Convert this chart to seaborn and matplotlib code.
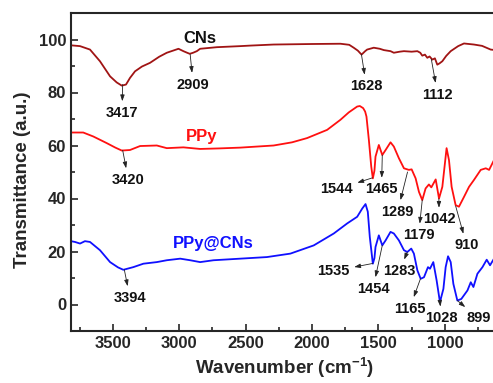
"""
FTIR spectra of CNs, PPy and PPy@CNs (transmittance vs wavenumber).
"""

import matplotlib
matplotlib.use("Agg")
import matplotlib.pyplot as plt
import pandas as pd
import seaborn as sns
from matplotlib.ticker import MultipleLocator

# Spectra (wavenumber in cm-1, transmittance in a.u.)
cns_wn = [3814, 3746, 3671, 3596, 3520, 3470, 3432, 3400, 3370, 3332, 3280, 3219,
          3150, 3093, 3005, 2968, 2940, 2920, 2895, 2867, 2842, 2716, 2540, 2465,
          2289, 2000, 1786, 1720, 1686, 1655, 1627, 1600, 1585, 1535, 1490, 1459,
          1409, 1384, 1340, 1308, 1250, 1207, 1185, 1170, 1150, 1132, 1115, 1094,
          1075, 1057, 1040, 1019, 990, 956, 900, 856, 781, 720, 655, 620]
cns_t = [97.8, 97.5, 96.2, 91.8, 86.1, 83.8, 82.6, 83.0, 85.5, 88.0, 89.8, 91.2,
         93.5, 95.0, 96.5, 95.6, 95.0, 94.6, 95.0, 95.6, 96.5, 97.1, 97.5, 97.7,
         98.1, 98.3, 98.4, 98.0, 96.9, 95.8, 94.3, 95.6, 96.2, 96.9, 96.5, 96.0,
         95.6, 95.0, 95.4, 95.6, 95.4, 95.6, 95.0, 93.9, 94.3, 93.1, 93.6, 92.4,
         92.9, 90.5, 91.0, 91.8, 93.8, 95.6, 97.5, 98.5, 98.1, 97.6, 96.2, 96.0]

ppy_wn = [3814, 3722, 3646, 3545, 3480, 3432, 3370, 3294, 3168, 3093, 2968, 2842,
          2700, 2540, 2289, 2150, 2037, 1886, 1786, 1723, 1660, 1640, 1615, 1600,
          1590, 1572, 1554, 1542, 1530, 1522, 1497, 1471, 1446, 1409, 1384, 1346,
          1308, 1271, 1250, 1220, 1195, 1170, 1145, 1120, 1102, 1069, 1044, 1019,
          987, 969, 949, 919, 894, 856, 818, 781, 730, 692, 667, 630]
ppy_t = [64.9, 64.9, 63.4, 60.9, 59.2, 58.1, 58.3, 59.8, 60.0, 59.0, 59.3, 58.7,
         58.9, 59.2, 60.0, 61.2, 62.8, 65.9, 69.7, 72.5, 74.7, 74.9, 74.1, 72.8,
         70.9, 62.1, 52.0, 47.6, 50.5, 55.8, 60.2, 56.4, 58.3, 61.2, 59.6, 55.2,
         51.4, 50.8, 51.0, 47.6, 42.5, 39.4, 43.8, 45.3, 44.2, 47.2, 40.0, 44.4,
         59.0, 54.5, 44.4, 37.5, 36.9, 40.6, 44.4, 47.0, 50.8, 51.4, 50.8, 54.5]

comp_wn = [3814, 3784, 3746, 3709, 3671, 3596, 3520, 3460, 3420, 3345, 3269, 3168,
           3093, 2992, 2917, 2842, 2741, 2540, 2339, 2163, 1987, 1836, 1735, 1660,
           1622, 1597, 1580, 1565, 1542, 1530, 1522, 1497, 1471, 1446, 1409, 1384,
           1346, 1308, 1283, 1253, 1233, 1207, 1182, 1157, 1127, 1112, 1087, 1062,
           1037, 1011, 994, 976, 956, 936, 906, 876, 830, 805, 785, 755, 717, 685,
           660, 630]
comp_t = [23.9, 23.6, 23.0, 23.9, 23.6, 20.5, 16.0, 14.0, 13.1, 14.1, 15.4, 16.0,
          16.7, 17.3, 16.7, 16.0, 16.7, 17.3, 17.9, 19.2, 22.3, 26.8, 30.6, 33.1,
          36.2, 37.9, 35.0, 25.5, 15.4, 17.5, 21.7, 26.1, 22.3, 24.2, 27.4, 26.8,
          24.2, 20.5, 19.8, 21.1, 19.2, 12.9, 9.7, 10.3, 14.1, 13.5, 16.0, 9.1,
          0.9, 5.9, 14.1, 18.2, 16.0, 7.8, 1.5, 2.1, 5.3, 8.4, 6.6, 11.6, 14.1, 16.9,
          14.8, 17.3]

series_names = ["CNs", "PPy", "PPy@CNs"]
series_colors = ["#A01414", "#FF1010", "#1010FF"]
name_colors = ["#111111", "#FF1010", "#1010FF"]
name_pos = [(2842, 100.4), (2834, 63.4), (2744, 23.0)]

# peak labels: text, point on the curve, text position
peak_labels = ["3417", "2909", "1628", "1112",
               "3420", "1544", "1465", "1289", "1179", "1042", "910",
               "3394", "1535", "1454", "1283", "1165", "1028", "899"]
peak_pts = [(3425, 83.0), (2917, 94.4), (1628, 94.4), (1102, 92.6),
            (3425, 58.2), (1545, 47.8), (1471, 56.4), (1281, 50.0), (1170, 39.5), (1045, 40.0), (919, 37.2),
            (3413, 13.2), (1542, 15.5), (1471, 22.3), (1283, 19.8), (1183, 9.8), (1037, 1.0), (906, 1.5)]
text_pos = [(3430, 72.3), (2894, 83.0), (1590, 82.3), (1054, 79.2),
            (3382, 47.0), (1816, 43.4), (1477, 43.4), (1356, 35.0), (1198, 26.1), (1043, 32.1), (836, 22.3),
            (3370, 2.5), (1839, 12.6), (1541, 5.9), (1341, 12.6), (1266, -1.6), (1024, -5.2), (745, -5.2)]


def main():
    sns.set_theme(style="ticks")
    plt.rcParams["font.family"] = ["Liberation Sans", "DejaVu Sans"]
    plt.rcParams["font.weight"] = "bold"

    frames = []
    for name, wn, t in zip(series_names, [cns_wn, ppy_wn, comp_wn], [cns_t, ppy_t, comp_t]):
        frames.append(pd.DataFrame({"wn": wn, "t": t, "sample": name}))
    df = pd.concat(frames, ignore_index=True)

    fig = plt.figure(figsize=(4.93, 3.83), dpi=100)
    ax = fig.add_axes([71 / 493, 1 - 331 / 383, (498 - 71) / 493, (331 - 13) / 383])

    sns.lineplot(data=df, x="wn", y="t", hue="sample", palette=series_colors,
                 hue_order=series_names, sort=False, estimator=None,
                 linewidth=1.3, legend=False, ax=ax)

    for name, col, (x, y) in zip(series_names, name_colors, name_pos):
        ax.text(x, y, name, color=col, fontsize=12, fontweight="bold",
                ha="center", va="center")

    for lab, pt, tp in zip(peak_labels, peak_pts, text_pos):
        ax.annotate(lab, xy=pt, xytext=tp, fontsize=10.5, fontweight="bold",
                    ha="center", va="center", color="#111111",
                    arrowprops=dict(arrowstyle="<|-,head_length=0.35,head_width=0.12",
                                    color="#222222", lw=0.6, shrinkA=1, shrinkB=0))

    ax.set_xlim(3814, 600)
    ax.set_ylim(-10, 110)
    ax.xaxis.set_major_locator(MultipleLocator(500))
    ax.xaxis.set_minor_locator(MultipleLocator(250))
    ax.yaxis.set_major_locator(MultipleLocator(20))
    ax.yaxis.set_minor_locator(MultipleLocator(10))
    ax.tick_params(which="both", direction="in", width=1.2, labelsize=12)
    ax.tick_params(which="major", length=5)
    ax.tick_params(which="minor", length=3)
    for lab in ax.get_xticklabels() + ax.get_yticklabels():
        lab.set_fontweight("bold")
    for sp in ax.spines.values():
        sp.set_linewidth(1.5)
        sp.set_visible(True)
    ax.spines["right"].set_visible(False)

    ax.set_xlabel("Wavenumber (cm$^{\\mathregular{-1}}$)", fontsize=13.5, fontweight="bold",
                  labelpad=3)
    ax.set_ylabel("Transmittance (a.u.)", fontsize=13.5, fontweight="bold")
    ax.yaxis.set_label_coords(-0.093, 0.475)

    fig.savefig("out.png", dpi=100)
    plt.close(fig)


if __name__ == "__main__":
    main()
